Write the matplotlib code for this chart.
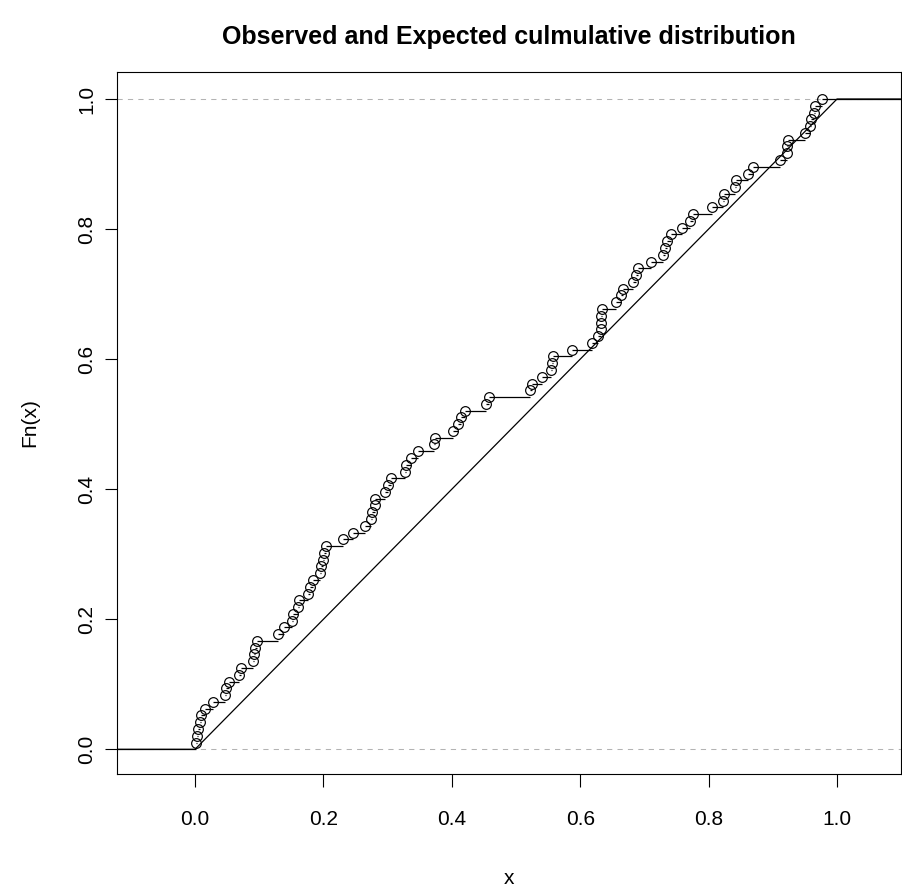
#ECDF of the observed sample against the expected uniform cdf
import numpy as np
import matplotlib
matplotlib.use("Agg")
import matplotlib.pyplot as plt

plt.rcParams['font.family'] = ['Liberation Sans', 'DejaVu Sans']

obs = [0.001, 0.003, 0.005, 0.008, 0.010, 0.016, 0.028, 0.047, 0.049, 0.053,
       0.069, 0.072, 0.090, 0.092, 0.093, 0.096, 0.130, 0.138, 0.151, 0.153,
       0.161, 0.162, 0.176, 0.179, 0.184, 0.194, 0.197, 0.200, 0.201, 0.204,
       0.230, 0.246, 0.265, 0.274, 0.275, 0.280, 0.281, 0.296, 0.300, 0.305,
       0.327, 0.328, 0.336, 0.348, 0.372, 0.374, 0.402, 0.410, 0.415, 0.421,
       0.453, 0.458, 0.522, 0.525, 0.540, 0.555, 0.556, 0.557, 0.587, 0.618,
       0.627, 0.632, 0.633, 0.633, 0.634, 0.656, 0.663, 0.667, 0.683, 0.687,
       0.690, 0.710, 0.729, 0.732, 0.735, 0.742, 0.758, 0.771, 0.775, 0.806,
       0.822, 0.824, 0.841, 0.843, 0.862, 0.869, 0.911, 0.922, 0.922, 0.924,
       0.950, 0.958, 0.959, 0.964, 0.966, 0.976]

#expected (uniform) cdf corner points
exp_x = [0.0, 1.0]
exp_y = [0.0, 1.0]

ticks = [0.0, 0.2, 0.4, 0.6, 0.8, 1.0]
tick_labels = ['0.0', '0.2', '0.4', '0.6', '0.8', '1.0']

xlim = (-0.1215, 1.0992)
ylim = (-0.0384, 1.042)

x = np.sort(np.array(obs))
n = len(x)
Fn = np.arange(1, n + 1) / n

fig = plt.figure(figsize=(9.03, 8.86), dpi=100)
ax = fig.add_axes([117 / 903, 1 - 774.3 / 886, (900.7 - 117) / 903, (774.3 - 71.7) / 886])

#reference lines at 0 and 1
ax.axhline(0, color='#b3b3b3', lw=0.75, ls=(0, (5, 5)), zorder=1)
ax.axhline(1, color='#b3b3b3', lw=0.75, ls=(0, (5, 5)), zorder=1)

#expected cdf
ax.plot([xlim[0]] + exp_x + [xlim[1]], [exp_y[0]] + exp_y + [exp_y[-1]],
        color='black', lw=0.9, zorder=2)

#observed step function, open circles at the jumps
left = np.concatenate(([xlim[0]], x))
right = np.concatenate((x, [xlim[1]]))
lev = np.concatenate(([0.0], Fn))
ax.hlines(lev, left, right, color='black', lw=0.9, zorder=3)
ax.plot(x, Fn, 'o', ms=7, mfc='none', mec='black', mew=0.85, zorder=4)

ax.set_xlim(xlim)
ax.set_ylim(ylim)
ax.set_xticks(ticks)
ax.set_xticklabels(tick_labels)
ax.set_yticks(ticks)
ax.set_yticklabels(tick_labels, rotation=90, va='center')
ax.tick_params(axis='both', direction='out', length=9, width=0.8, labelsize=15)
ax.tick_params(axis='x', pad=17)
ax.tick_params(axis='y', pad=6)
for s in ax.spines.values():
    s.set_linewidth(0.8)

ax.set_xlabel('x', fontsize=15)
ax.xaxis.label.set_va('center')
ax.xaxis.set_label_coords(0.5, (774.3 - 878) / (774.3 - 71.7))
ax.set_ylabel('Fn(x)', fontsize=15)
ax.yaxis.label.set_va('center')
ax.yaxis.set_label_coords((30 - 117) / (900.7 - 117), 0.5)

fig.text((117 + 900.7) / 2 / 903, 1 - 37 / 886, 'Observed and Expected culmulative distribution',
         ha='center', va='center', fontsize=18, fontweight='bold')

plt.savefig('out.png', dpi=100)
